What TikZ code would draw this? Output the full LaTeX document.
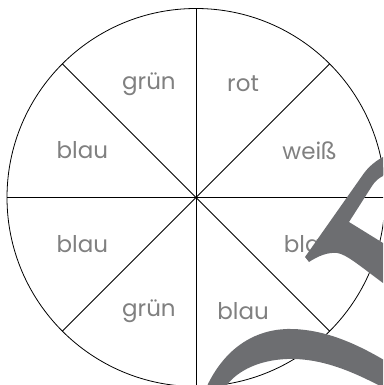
\documentclass[tikz,border=0pt]{standalone}
\usepackage{fontspec}
\setmainfont{Poppins}
\usepackage{tikz}
\usetikzlibrary{positioning,calc}

\definecolor{labelgray}{HTML}{808080}
\definecolor{pointergray}{HTML}{6D6E71}

\begin{document}
\begin{tikzpicture}[
  x=1pt, y=-1pt,
  lbl/.style={text=labelgray, font=\fontsize{23}{25}\selectfont, inner sep=0pt},
  spoke/.style={draw=black, line width=0.8pt},
  pointer/.style={fill=pointergray, draw=none}
]
\useasboundingbox (0,0) rectangle (383,385);
\clip (0,0) rectangle (383,385);
\coordinate (mid) at (196,197.5);
% wheel
\draw[spoke] (mid) circle (189);
\foreach \a in {0,45,...,315}
  \draw[spoke] (mid) -- ++(\a:189);
% sector labels (clockwise from right, y points down)
\foreach \a/\txt [count=\i] in {22.5/blau, 67.5/blau, 112.5/grün, 157.5/blau,
    202.5/blau, 247.5/grün, 292.5/rot, 337.5/weiß}
  \node[lbl] (s\i) at ($(mid)+(\a:123)$) {\txt};
% pointer, upper part
\path[pointer] (383,157) .. controls (372,163) and (366,170) .. (362,176)
  -- (305,257) -- (309,262)
  .. controls (318,256) and (328,252) .. (337,253)
  .. controls (346,254) and (360,266) .. (383,283)
  -- (383,243) -- (349,222) -- (372,186)
  .. controls (375,181) and (379,178) .. (383,176) -- cycle;
% pointer, lower part
\path[pointer] (207,386) .. controls (228,342) and (262,328) .. (293,329)
  .. controls (325,330) and (355,343) .. (384,360)
  -- (384,388)
  .. controls (350,370) and (320,358) .. (287,359)
  .. controls (260,360) and (238,370) .. (226,386) -- cycle;
\end{tikzpicture}
\end{document}
